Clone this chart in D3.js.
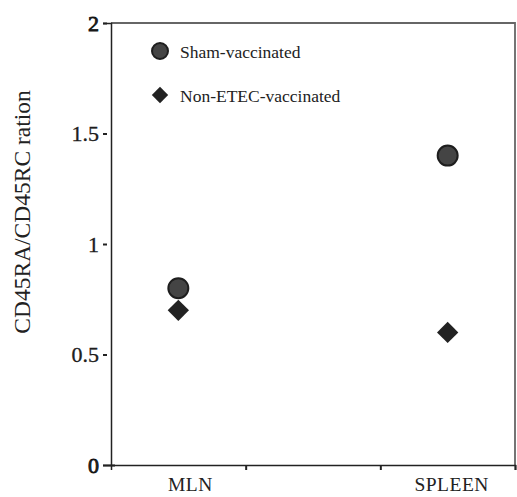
<!DOCTYPE html>
<html>
<head>
<meta charset="utf-8">
<script src="https://cdn.jsdelivr.net/npm/d3@7"></script>
<style>
  body { margin: 0; background: #fff; }
  text { font-family: "Liberation Serif", "DejaVu Serif", serif; fill: #222; }
</style>
</head>
<body>
<div id="chart"></div>
<script>
const tissues = ['MLN', 'SPLEEN'];
const seriesNames = ['Sham-vaccinated', 'Non-ETEC-vaccinated'];
const shamValues = [0.8, 1.4];
const nonEtecValues = [0.7, 0.6];
const yTicks = [0, 0.5, 1, 1.5, 2];

const W = 517, H = 497;
const margin = { top: 23, right: 2, bottom: 32, left: 111 };
const width = W - margin.left - margin.right;
const height = H - margin.top - margin.bottom;

const svg = d3.select('#chart').append('svg')
    .attr('width', W)
    .attr('height', H)
    .append('g')
    .attr('transform', `translate(${margin.left}, ${margin.top})`);

// x runs 0..3 with ticks at each unit, categories sit at 0.5 and 2.5
const x = d3.scaleLinear().domain([0, 3]).range([0, width]);
const catPos = [0.5, 2.5];
const labelShift = [12, 4];
const y = d3.scaleLinear().domain([0, 2]).range([height, 0]);

// frame top / right
svg.append('path')
    .attr('d', `M0,0H${width}V${height}`)
    .attr('fill', 'none')
    .attr('stroke', '#666')
    .attr('stroke-width', 1.8);

const yAxis = svg.append('g')
    .call(d3.axisLeft(y).tickValues(yTicks).tickSize(8).tickPadding(4)
        .tickFormat((d) => String(d)));
yAxis.select('.domain').attr('stroke', '#222').attr('stroke-width', 1.5);
// short detached dash ticks like the original
yAxis.selectAll('.tick line')
    .attr('x1', (d) => (d === 0 ? 4 : -4))
    .attr('x2', -8)
    .attr('stroke', '#222')
    .attr('stroke-width', 2);
yAxis.selectAll('.tick text')
    .style('font-size', '22px')
    .attr('fill', '#111')
    .attr('stroke', '#111')
    .attr('stroke-width', (d) => (d === 0 || d === 2 ? 0.8 : 0.3));

const xAxis = svg.append('g')
    .attr('transform', `translate(0, ${height})`)
    .call(d3.axisBottom(x).tickValues([1, 2, 3]).tickSize(5).tickFormat(''));
xAxis.select('.domain').attr('stroke', '#222').attr('stroke-width', 1.5);
xAxis.selectAll('.tick line').attr('stroke', '#222').attr('stroke-width', 2);

svg.append('g').selectAll('text')
    .data(tissues)
    .enter()
    .append('text')
    .attr('x', (d, i) => x(catPos[i]) + labelShift[i])
    .attr('y', height + 26)
    .attr('text-anchor', 'middle')
    .style('font-size', '19.5px')
    .style('letter-spacing', '0.5px')
    .text((d) => d);

svg.append('text')
    .attr('transform', `translate(${22 - margin.left}, ${189}) rotate(-90)`)
    .attr('text-anchor', 'middle')
    .attr('dy', '0.35em')
    .style('font-size', '23.5px')
    .text('CD45RA/CD45RC ration');

const diamond = d3.symbol().type(d3.symbolDiamond2).size(290);

function drawCircle(g, cx, cy, r) {
    g.append('circle')
        .attr('cx', cx).attr('cy', cy).attr('r', r)
        .attr('fill', '#444')
        .attr('stroke', '#1e1e1e')
        .attr('stroke-width', 2);
}

const marks = svg.append('g');
shamValues.forEach((v, i) => drawCircle(marks, x(catPos[i]), y(v), 10));
marks.selectAll('path.nonetec')
    .data(nonEtecValues)
    .enter()
    .append('path')
    .attr('class', 'nonetec')
    .attr('d', diamond)
    .attr('transform', (d, i) => `translate(${x(catPos[i])}, ${y(d)})`)
    .attr('fill', '#222');

// legend
const legend = svg.append('g').attr('transform', 'translate(49, 28)');
drawCircle(legend, 0, 0, 8);
legend.append('path')
    .attr('d', d3.symbol().type(d3.symbolDiamond2).size(170))
    .attr('transform', 'translate(0, 44)')
    .attr('fill', '#222');
legend.selectAll('text')
    .data(seriesNames)
    .enter()
    .append('text')
    .attr('x', 20)
    .attr('y', (d, i) => i * 44 + 1)
    .attr('dy', '0.35em')
    .style('font-size', '17.5px')
    .text((d) => d);
</script>
</body>
</html>
